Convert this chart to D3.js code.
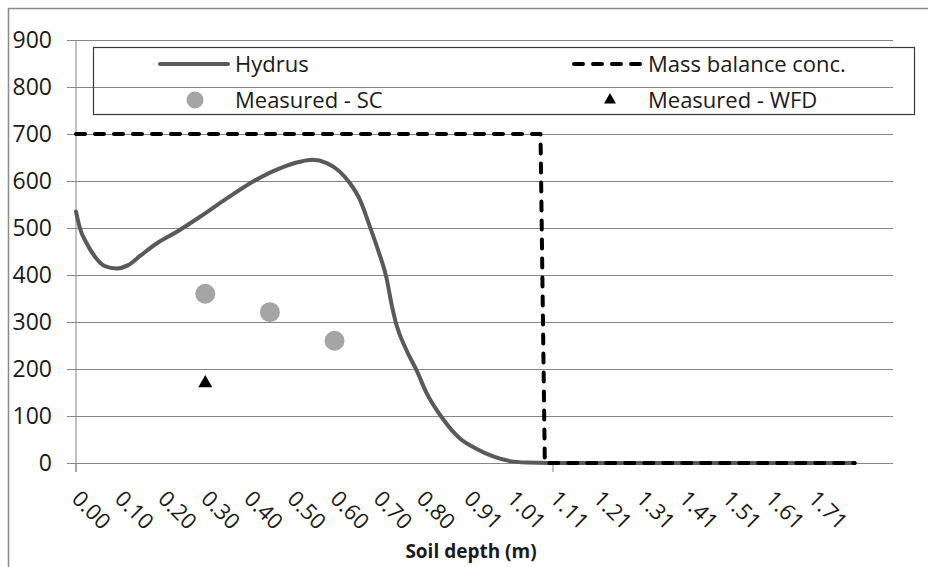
<!DOCTYPE html>
<html>
<head>
<meta charset="utf-8">
<script src="https://cdn.jsdelivr.net/npm/d3@7"></script>
<style>
  html, body { margin: 0; padding: 0; background: #fff; }
  svg { display: block; }
  text { font-family: "Open Sans", "Noto Sans", sans-serif; fill: #1a1a1a; }
</style>
</head>
<body>
<svg id="chart" width="928" height="567"></svg>
<script>
// ---- data ----
const hydrusDepth = [0, 0.009, 0.025, 0.044, 0.067, 0.094, 0.121, 0.148, 0.187, 0.234, 0.288, 0.35, 0.411, 0.473, 0.52, 0.548, 0.582, 0.612, 0.636, 0.659, 0.682, 0.701, 0.72, 0.733, 0.744, 0.767, 0.79, 0.814, 0.852, 0.891, 0.93, 0.968, 1.007, 1.046, 1.1, 1.3, 1.5, 1.7, 1.807];
const hydrusConc  = [535, 500, 467, 439, 419, 414, 421, 440, 467, 492, 524, 563, 599, 627, 641, 645, 638, 620, 595, 560, 503, 453, 396, 335, 293, 240, 198, 148, 93, 52, 30, 14, 4, 1, 0, 0, 0, 0, 0];

const massDepth = [0, 1.078, 1.088, 1.807];
const massConc  = [700, 700, 0, 0];

const scDepth = [0.30, 0.45, 0.60];
const scConc  = [360, 321, 260];

const wfdDepth = [0.30];
const wfdConc  = [170];

const yTicks = [0, 100, 200, 300, 400, 500, 600, 700, 800, 900];
const xTickLabels = ["0.00", "0.10", "0.20", "0.30", "0.40", "0.50", "0.60", "0.70", "0.80", "0.91", "1.01", "1.11", "1.21", "1.31", "1.41", "1.51", "1.61", "1.71"];
const xTickMarks = [0, 1.107];
const xMax = 1.896;

const seriesNames = ["Hydrus", "Mass balance conc.", "Measured - SC", "Measured - WFD"];
const xTitle = "Soil depth (m)";

// ---- layout ----
const svg = d3.select("#chart");
const plotLeft = 76, plotRight = 893, plotTop = 40, plotBottom = 463;
const gridColor = "#868686";

const x = d3.scaleLinear().domain([0, xMax]).range([plotLeft, plotRight]);
const y = d3.scaleLinear().domain([0, 900]).range([plotBottom, plotTop]);

// outer chart border
svg.append("path")
  .attr("d", "M8.5,567 L8.5,8.5 L928,8.5")
  .attr("fill", "none").attr("stroke", "#8a8a8a").attr("stroke-width", 1.5);

// y axis with gridlines
const yAxis = svg.append("g")
  .attr("transform", `translate(${plotLeft - 9},0)`)
  .call(d3.axisLeft(y).tickValues(yTicks).tickSize(-(plotRight - plotLeft + 9)).tickPadding(15).tickFormat(d3.format("d")));
yAxis.select(".domain").remove();
yAxis.selectAll(".tick line").attr("stroke", gridColor).attr("stroke-width", 1);
yAxis.selectAll(".tick text").style("font-size", "23px").attr("fill", "#1a1a1a");

// vertical axis line
svg.append("line")
  .attr("x1", plotLeft).attr("x2", plotLeft)
  .attr("y1", plotTop).attr("y2", plotBottom + 9)
  .attr("stroke", gridColor).attr("stroke-width", 1);

// x axis: labels
const xAxis = svg.append("g")
  .attr("transform", `translate(0,${plotBottom})`)
  .call(d3.axisBottom(x)
    .tickValues(xTickLabels.map(Number))
    .tickFormat((d, i) => xTickLabels[i])
    .tickSize(0));
xAxis.select(".domain").remove();
xAxis.selectAll(".tick text")
  .attr("x", 0).attr("y", 0).attr("dy", 0)
  .attr("transform", "translate(-6,37) rotate(45)")
  .style("text-anchor", "start")
  .style("font-size", "22px")
  .attr("fill", "#1a1a1a");

// x axis tick marks
svg.append("g").selectAll("line")
  .data(xTickMarks).join("line")
  .attr("x1", d => x(d)).attr("x2", d => x(d))
  .attr("y1", plotBottom).attr("y2", plotBottom + 9)
  .attr("stroke", gridColor).attr("stroke-width", 1);

// x axis title
svg.append("text")
  .attr("x", 471).attr("y", 558)
  .attr("text-anchor", "middle")
  .style("font-size", "19px").style("font-weight", "bold")
  .text(xTitle);

// Hydrus line
const hydrus = hydrusDepth.map((d, i) => [d, hydrusConc[i]]);
svg.append("path")
  .datum(hydrus)
  .attr("fill", "none").attr("stroke", "#595959").attr("stroke-width", 4)
  .attr("stroke-linejoin", "round").attr("stroke-linecap", "round")
  .attr("d", d3.line().x(d => x(d[0])).y(d => y(d[1])).curve(d3.curveMonotoneX));

// Mass balance dashed line
const mass = massDepth.map((d, i) => [d, massConc[i]]);
svg.append("path")
  .datum(mass)
  .attr("fill", "none").attr("stroke", "#000").attr("stroke-width", 4)
  .attr("stroke-dasharray", "9,10").attr("stroke-linecap", "round").attr("stroke-linejoin", "round")
  .attr("d", d3.line().x(d => x(d[0])).y(d => y(d[1])));

// Measured - SC
svg.append("g").selectAll("circle")
  .data(scDepth.map((d, i) => [d, scConc[i]])).join("circle")
  .attr("cx", d => x(d[0])).attr("cy", d => y(d[1])).attr("r", 10)
  .attr("fill", "#a5a5a5");

// Measured - WFD
svg.append("g").selectAll("path")
  .data(wfdDepth.map((d, i) => [d, wfdConc[i]])).join("path")
  .attr("transform", d => `translate(${x(d[0])},${y(d[1])})`)
  .attr("d", d3.symbol(d3.symbolTriangle, 85))
  .attr("fill", "#000");

// Legend
const lg = svg.append("g");
lg.append("rect").attr("x", 93.5).attr("y", 47.5).attr("width", 821).attr("height", 67)
  .attr("fill", "none").attr("stroke", "#3a3a3a").attr("stroke-width", 1.2);
// Hydrus
lg.append("line").attr("x1", 160).attr("x2", 228).attr("y1", 64).attr("y2", 64)
  .attr("stroke", "#595959").attr("stroke-width", 4).attr("stroke-linecap", "round");
lg.append("text").attr("x", 235).attr("y", 64).attr("dy", "0.35em").style("font-size", "22px").text(seriesNames[0]);
// Mass balance
lg.append("line").attr("x1", 574).attr("x2", 645).attr("y1", 64).attr("y2", 64)
  .attr("stroke", "#000").attr("stroke-width", 4).attr("stroke-dasharray", "9,10").attr("stroke-linecap", "round");
lg.append("text").attr("x", 648).attr("y", 64).attr("dy", "0.35em").style("font-size", "22px").text(seriesNames[1]);
// SC
lg.append("circle").attr("cx", 195).attr("cy", 100).attr("r", 8.5).attr("fill", "#a5a5a5");
lg.append("text").attr("x", 235).attr("y", 100).attr("dy", "0.35em").style("font-size", "22px").text(seriesNames[2]);
// WFD
lg.append("path").attr("transform", "translate(610,100)").attr("d", d3.symbol(d3.symbolTriangle, 62)).attr("fill", "#000");
lg.append("text").attr("x", 648).attr("y", 100).attr("dy", "0.35em").style("font-size", "22px").text(seriesNames[3]);
</script>
</body>
</html>
